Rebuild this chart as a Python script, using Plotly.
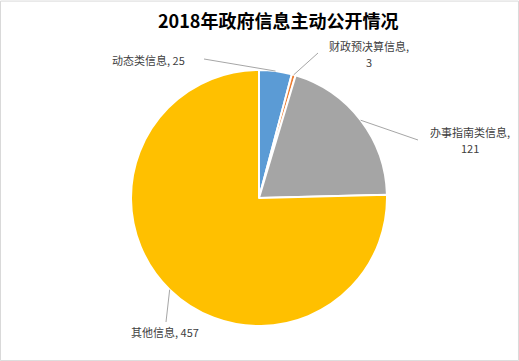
import math
import plotly.graph_objects as go

categories = ["动态类信息", "财政预决算信息", "办事指南类信息", "其他信息"]
values = [25, 3, 121, 457]
colors = ["#5B9BD5", "#ED7D31", "#A5A5A5", "#FFC000"]
title_text = "2018年政府信息主动公开情况"

W, H = 519, 361
cx, cy, r = 259, 198, 128  # pie centre / radius in pixels

# label layout: list of (text line, x, y) per slice, and leader-line ends
label_lines = [
    [("动态类信息, 25", 148, 60)],
    [("财政预决算信息,", 369, 46), ("3", 369, 62)],
    [("办事指南类信息,", 470, 132), ("121", 470, 148)],
    [("其他信息, 457", 165, 332)],
]
line_end = [(204, 59), (318, 53), (418, 140), (166, 322)]

def px(x):
    return x / W

def py(y):
    return 1 - y / H

fig = go.Figure(go.Pie(
    labels=categories, values=values, sort=False, direction="clockwise",
    rotation=0, textinfo="none", hoverinfo="label+value",
    marker=dict(colors=colors, line=dict(color="white", width=2)),
    domain=dict(x=[px(cx - r), px(cx + r)], y=[py(cy + r), py(cy - r)]),
    showlegend=False,
))

total = sum(values)
cum = 0
shapes = [dict(type="rect", xref="paper", yref="paper", x0=0.001, y0=0.001, x1=0.999, y1=0.997,
               line=dict(color="#D9D9D9", width=1))]
annotations = []
for i, v in enumerate(values):
    mid = (cum + v / 2) / total * 2 * math.pi
    cum += v
    ax_ = cx + r * math.sin(mid)
    ay_ = cy - r * math.cos(mid)
    ex, ey = line_end[i]
    shapes.append(dict(type="line", xref="paper", yref="paper",
                       x0=px(ax_), y0=py(ay_), x1=px(ex), y1=py(ey),
                       line=dict(color="#A6A6A6", width=1)))
    for txt, lx, ly in label_lines[i]:
        annotations.append(dict(x=px(lx), y=py(ly), xref="paper", yref="paper", text=txt,
                                showarrow=False, xanchor="center", yanchor="middle",
                                font=dict(family="Noto Sans CJK SC", size=11, color="#404040")))

annotations.append(dict(x=px(278), y=py(20), xref="paper", yref="paper", text="<b>" + title_text + "</b>",
                        showarrow=False, xanchor="center", yanchor="middle",
                        font=dict(family="Noto Sans CJK SC", size=18, color="#000000")))

fig.update_layout(width=W, height=H, margin=dict(l=0, r=0, t=0, b=0),
                  paper_bgcolor="white", plot_bgcolor="white",
                  shapes=shapes, annotations=annotations)

fig.write_html("out.html", config={"displayModeBar": False},
               post_script="document.body.style.margin='0';document.body.style.overflow='hidden';")
